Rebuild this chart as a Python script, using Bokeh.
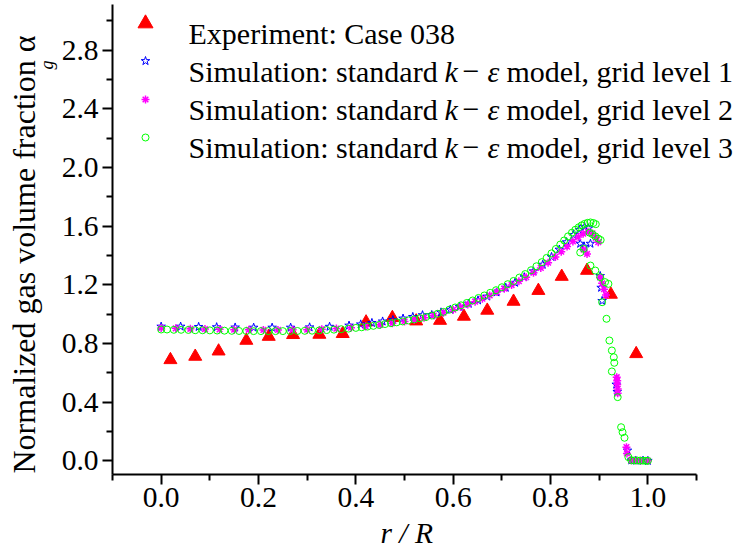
import math
from bokeh.plotting import figure
from bokeh.models import FixedTicker, NumeralTickFormatter, Label, Range1d, Title
from bokeh.embed import file_html
from bokeh.resources import INLINE

# ---------------- data ----------------
exp_x = [0.019, 0.070, 0.118, 0.175, 0.221, 0.271, 0.325, 0.373, 0.421, 0.475,
         0.524, 0.573, 0.622, 0.670, 0.724, 0.775, 0.823, 0.875, 0.924, 0.976]
exp_y = [0.688, 0.711, 0.747, 0.820, 0.847, 0.859, 0.861, 0.866, 0.945, 0.975,
         0.952, 0.956, 0.984, 1.025, 1.086, 1.160, 1.256, 1.297, 1.134, 0.729]

g1_x = [0.000, 0.040, 0.077, 0.114, 0.152, 0.190, 0.228, 0.266, 0.305, 0.346,
        0.386, 0.410, 0.433, 0.455, 0.476, 0.497, 0.517, 0.537, 0.556, 0.575,
        0.594, 0.613, 0.632, 0.651, 0.670, 0.689, 0.708, 0.727, 0.746, 0.765,
        0.784, 0.802, 0.818, 0.833, 0.847, 0.859, 0.870, 0.878, 0.861, 0.869,
        0.882, 0.902, 0.904, 0.906, 0.935, 0.937, 0.958, 0.966, 0.975, 0.990, 1.000]
g1_y = [0.915, 0.915, 0.913, 0.911, 0.909, 0.908, 0.908, 0.908, 0.910, 0.914,
        0.922, 0.930, 0.940, 0.950, 0.960, 0.970, 0.981, 0.993, 0.994, 1.012,
        1.030, 1.050, 1.071, 1.094, 1.120, 1.148, 1.180, 1.214, 1.252, 1.292,
        1.337, 1.390, 1.440, 1.490, 1.540, 1.575, 1.595, 1.585, 1.480, 1.460,
        1.480, 1.260, 1.180, 1.090, 0.520, 0.470, 0.070, 0.003, 0.002, 0.001, 0.000]

g2_x = [0.000, 0.030, 0.060, 0.090, 0.120, 0.150, 0.180, 0.210, 0.240, 0.270,
        0.300, 0.330, 0.360, 0.390, 0.420, 0.450, 0.475, 0.500, 0.520, 0.540,
        0.560, 0.580, 0.600, 0.615, 0.630, 0.645, 0.660, 0.675, 0.690, 0.705,
        0.720, 0.735, 0.750, 0.765, 0.780, 0.795, 0.810, 0.822, 0.834, 0.846,
        0.857, 0.867, 0.877, 0.886, 0.875, 0.868, 0.893, 0.898, 0.902, 0.906,
        0.910, 0.914, 0.936, 0.937, 0.937, 0.938, 0.938, 0.956, 0.957, 0.966,
        0.975, 0.985, 1.000]
g2_y = [0.905, 0.903, 0.900, 0.898, 0.896, 0.894, 0.893, 0.892, 0.892, 0.893,
        0.894, 0.897, 0.901, 0.907, 0.916, 0.927, 0.938, 0.950, 0.962, 0.975,
        0.990, 1.010, 1.030, 1.048, 1.066, 1.085, 1.105, 1.127, 1.150, 1.173,
        1.198, 1.224, 1.252, 1.282, 1.315, 1.350, 1.390, 1.425, 1.460, 1.495,
        1.525, 1.548, 1.562, 1.550, 1.410, 1.440, 1.520, 1.490, 1.250, 1.210,
        1.170, 1.130, 0.570, 0.545, 0.520, 0.490, 0.460, 0.093, 0.050, 0.003,
        0.002, 0.001, 0.000]

g3_x = [0.000, 0.012, 0.026, 0.041, 0.056, 0.070, 0.085, 0.100, 0.115, 0.130,
        0.145, 0.160, 0.175, 0.190, 0.205, 0.220, 0.235, 0.250, 0.265, 0.280,
        0.295, 0.310, 0.325, 0.340, 0.355, 0.370, 0.385, 0.400, 0.412, 0.424,
        0.436, 0.448, 0.460, 0.472, 0.484, 0.496, 0.508, 0.520, 0.532, 0.544,
        0.556, 0.568, 0.580, 0.592, 0.604, 0.616, 0.628, 0.640, 0.652, 0.664,
        0.676, 0.688, 0.700, 0.712, 0.724, 0.736, 0.748, 0.760, 0.771, 0.782,
        0.792, 0.802, 0.811, 0.820, 0.828, 0.836, 0.844, 0.851, 0.858, 0.864,
        0.870, 0.876, 0.882, 0.888, 0.893, 0.880, 0.886, 0.892, 0.898, 0.903,
        0.861, 0.868, 0.882, 0.892, 0.902, 0.912, 0.919, 0.906, 0.915, 0.921,
        0.926, 0.930, 0.931, 0.926, 0.938, 0.945, 0.948, 0.952, 0.960, 0.966,
        0.972, 0.978, 0.984, 0.990, 0.996, 1.000]
g3_y = [0.895, 0.895, 0.893, 0.893, 0.892, 0.890, 0.890, 0.889, 0.888, 0.887,
        0.886, 0.885, 0.885, 0.884, 0.884, 0.884, 0.884, 0.884, 0.885, 0.885,
        0.886, 0.887, 0.889, 0.891, 0.894, 0.897, 0.901, 0.906, 0.910, 0.915,
        0.920, 0.926, 0.932, 0.938, 0.944, 0.950, 0.957, 0.964, 0.972, 0.980,
        0.990, 1.002, 1.015, 1.030, 1.045, 1.060, 1.076, 1.093, 1.110, 1.127,
        1.145, 1.163, 1.183, 1.204, 1.226, 1.249, 1.273, 1.299, 1.326, 1.354,
        1.383, 1.414, 1.444, 1.474, 1.502, 1.530, 1.555, 1.575, 1.592, 1.605,
        1.615, 1.622, 1.625, 1.621, 1.613, 1.555, 1.545, 1.530, 1.515, 1.505,
        1.420, 1.445, 1.331, 1.297, 1.252, 1.218, 1.206, 1.081, 0.968, 0.820,
        0.752, 0.706, 0.668, 0.609, 0.434, 0.229, 0.195, 0.157, 0.025, 0.003,
        0.002, 0.002, 0.001, 0.001, 0.000, 0.000]

x_ticks = [0.0, 0.2, 0.4, 0.6, 0.8, 1.0]
x_minor = [-0.1, 0.1, 0.3, 0.5, 0.7, 0.9, 1.1]
y_ticks = [0.0, 0.4, 0.8, 1.2, 1.6, 2.0, 2.4, 2.8]
y_minor = [0.2, 0.6, 1.0, 1.4, 1.8, 2.2, 2.6, 3.0]

legend_exp = "Experiment: Case 038"
legend_sim_prefix = "Simulation: standard"
legend_sim_suffix = ["model, grid level 1", "model, grid level 2", "model, grid level 3"]
x_label = "r / R"
y_label = "Normalized gas volume fraction \u03b1"
y_label_sub = "g"

# ---------------- layout ----------------
W, H = 736, 555
FL, FB = 112, 474            # frame left edge and bottom edge (canvas px)
SX, SY = 486.7, 146.7        # px per data unit
X0 = -0.1
X1 = X0 + (W - FL) / SX
Y1 = 460.3 / SY
Y0 = Y1 - FB / SY
FONT = "Liberation Serif"
FS = "29.5px"
LFS = "30px"


def dx(px):
    return X0 + (px - FL) / SX


def dy(py):
    return Y1 - py / SY


p = figure(width=W, height=H, x_range=Range1d(X0, X1), y_range=Range1d(Y0, Y1),
           output_backend="svg", toolbar_location=None,
           min_border_left=FL, min_border_right=0,
           min_border_top=0, min_border_bottom=H - FB)
p.outline_line_color = None
p.xgrid.visible = False
p.ygrid.visible = False
p.background_fill_color = "white"
p.border_fill_color = "white"

p.xaxis.ticker = FixedTicker(ticks=x_ticks, minor_ticks=x_minor)
p.yaxis.ticker = FixedTicker(ticks=y_ticks, minor_ticks=y_minor)
p.xaxis.bounds = (-0.1, 1.1)
p.yaxis.bounds = (Y0, 3.11)
for ax in (p.xaxis[0], p.yaxis[0]):
    ax.formatter = NumeralTickFormatter(format="0.0")
    ax.axis_line_width = 2
    ax.axis_line_color = "black"
    ax.major_tick_line_width = 2
    ax.minor_tick_line_width = 2
    ax.major_tick_line_color = "black"
    ax.minor_tick_line_color = "black"
    ax.major_tick_out = 10
    ax.major_tick_in = 0
    ax.minor_tick_out = 6
    ax.minor_tick_in = 0
    ax.major_label_text_font = FONT
    ax.major_label_text_font_size = FS
    ax.major_label_text_color = "black"
p.xaxis.major_label_standoff = 3
p.yaxis.major_label_standoff = 4

# ---------------- data marks ----------------
p.scatter(exp_x, exp_y, marker="triangle", size=13, fill_color="red", line_color="red")
p.scatter(g1_x, g1_y, marker="star", size=9, fill_color=None, line_color="blue", line_width=1)
p.scatter(g2_x, g2_y, marker="asterisk", size=8, line_color="#FF00FF", line_width=1.5)
p.scatter(g3_x, g3_y, marker="circle", size=7, fill_color=None, line_color="#00FF00", line_width=1)

# ---------------- legend (manual, inside the frame) ----------------
lx = dx(145)
p.scatter([lx], [dy(23)], marker="triangle", size=15, fill_color="red", line_color="red")
p.scatter([lx], [dy(60.5)], marker="star", size=9, fill_color=None, line_color="blue", line_width=1)
p.scatter([lx], [dy(99)], marker="asterisk", size=8, line_color="#FF00FF", line_width=1.5)
p.scatter([lx], [dy(137)], marker="circle", size=7, fill_color=None, line_color="#00FF00", line_width=1)


def lab(text, px, py, size=LFS, style="normal"):
    p.add_layout(Label(x=dx(px), y=dy(py), text=text, text_font=FONT, text_font_size=size,
                       text_font_style=style, text_align="left",
                       text_baseline="alphabetic", text_color="black"))


lab(legend_exp, 188, 33.3)
for base, suffix in zip([70.7, 108.7, 146.7], legend_sim_suffix):
    lab(legend_sim_prefix, 188, base)
    lab("k", 444, base, style="italic")
    lab("\u2212", 462, base)
    lab("\u03b5", 487, base, style="italic")
    lab(suffix, 506, base)

# ---------------- axis titles (side-panel titles) ----------------
t_sub = Title(text=y_label_sub, text_font=FONT, text_font_size="18px", text_font_style="italic",
              text_color="black", align="right", offset=60, vertical_align="top", standoff=0)
t_main = Title(text=y_label, text_font=FONT, text_font_size="32px", text_font_style="normal",
               text_color="black", align="left", offset=1, vertical_align="bottom", standoff=-10)
p.add_layout(t_sub, "left")
p.add_layout(t_main, "left")

t_x = Title(text=x_label, text_font=FONT, text_font_size=FS, text_font_style="italic",
            text_color="black", align="left", offset=268, vertical_align="bottom", standoff=10)
p.add_layout(t_x, "below")

open("out.html", "w").write(file_html(p, INLINE))
